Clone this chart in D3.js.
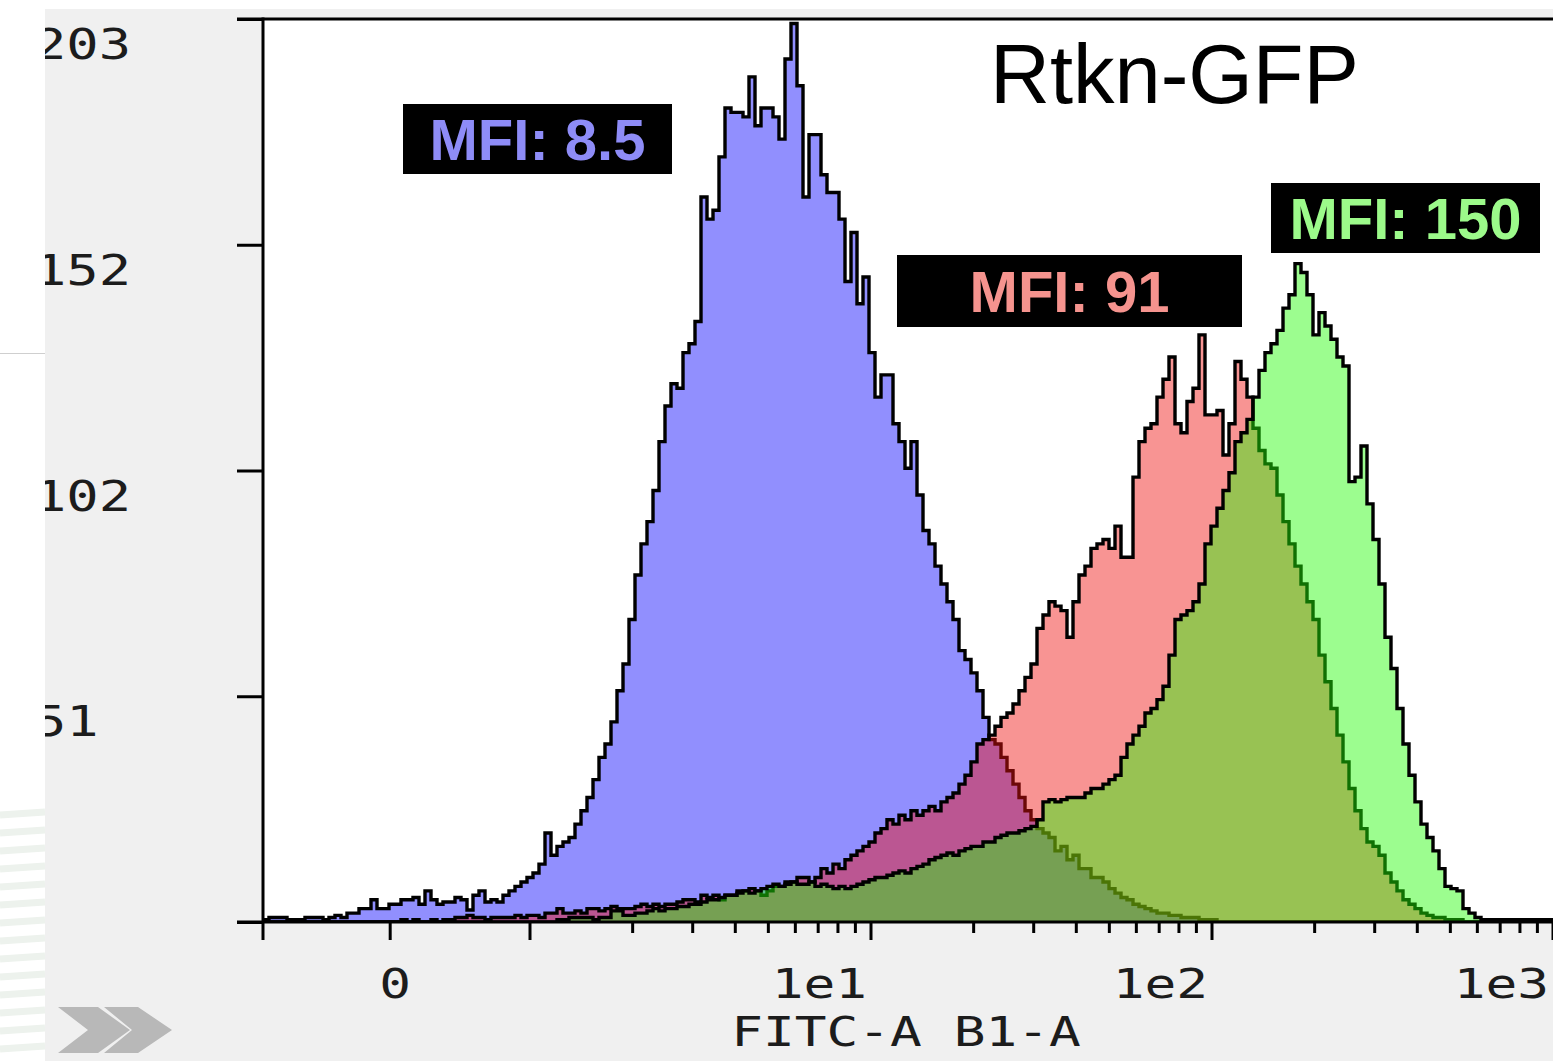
<!DOCTYPE html>
<html><head><meta charset="utf-8">
<script src="https://cdn.jsdelivr.net/npm/d3@7"></script>
<style>
html,body{margin:0;padding:0;background:#fff;}
svg{display:block;}
</style></head><body>
<svg id="c" width="1553" height="1061"></svg>
<script>
// ---------------- DATA ----------------
const chartTitle = "Rtkn-GFP";
const xAxisTitle = "FITC-A B1-A";
const yTickValues = [0, 50.75, 101.5, 152.25, 203];
const yTickLabels = ["", "51", "102", "152", "203"];
const xMajorTicks = [0, 1, 10, 100, 1000];
const xMajorLabels = ["0", "", "1e1", "1e2", "1e3"];
const xMinorTicks = [2,3,4,5,6,7,8,9,20,30,40,50,60,70,80,90,200,300,400,500,600,700,800,900];
const xDisplayDomain = [-0.783, 3.0];   // display decades (biexponential view)
const zeroDisplay = -0.41;              // display position of value 0
const mfiLabels = ["MFI: 8.5", "MFI: 91", "MFI: 150"];

// histogram counts per channel (evenly spaced channels over the display range)
const blueCounts = [
0.5,1,1,1,0.5,0.5,0.5,1,1,1,
0.5,1,1.5,1,2,2,3,3,5,3,
3,4,4,5,5,5.5,4,7,5,4,
4.5,4.5,5.5,5,2.7,6,7,4.5,5,4.5,
6,7,8,9,10,11,13,20,15,17,
18,19,22,25,28,32,37,40,45,52,
58,68,78,85,90,97,108,116,121,120,
128,130,135,163,158,160,172,183,182,182,
181,190,179,183,183,181,176,194,202,188,
163,177,177,168,164,164,158,144,155,139,
145,128,118,123,123,112,108,102,108,96,
88,85,80,76,72,68,61,59,56,52,
46,41,40,37,34,31,28,25,23,21,
20,19,16,17,14,15,12,12,10,10,
9,7.5,6.5,5.5,5,4,3.5,3,2.5,2,
2,1.5,1.5,1,1,1,0.5,0.5,0.5,0,
0,0,0,0,0,0,0,0,0,0,
0,0,0,0,0,0,0,0,0,0,
0,0,0,0,0,0,0,0,0,0,
0,0,0,0,0,0,0,0,0,0,
0,0,0,0,0,0,0,0,0,0,
0,0,0,0,0];

const redCounts = [
0,0,0,0,0,0,0,0,0,0,
0,0,0,0,0,0,0,0,0,0,
0,0,0,0.5,0,0.5,0,0,0.5,0,
0.5,0.5,1,1,1.5,1,1,0.5,1,1,
1,1,1.5,1,1.5,1.5,1,2,2,3,
2,2,2.5,2,3,3,2.5,3,3.5,3,
3,3,3.5,4,3.5,4,3.5,4,4,4.5,
5,5,4.5,6,5.5,6,5,6,6,7,
7,7.5,7,6,7,8,8,9,9,10,
10,9,10,12,11,13,12,14,15,16,
17,18,20,21,23,22,24,23,25,24,
25,26,25,27,28,29,31,33,36,40,
41,42,44,46,47,49,52,55,58,66,
69,72,71,70,64,72,78,80,84,85,
86,84,89,82,82,100,108,111,112,118,
122,127,112,110,117,120,132,114,114,115,
105,112,126,122,118,111,106,103,102,96,
90,85,80,76,72,68,60,54,48,42,
36,30,25,21,18,17,15,11,9,7,
5,4,3,2,1.5,1,1,0.5,0.5,0.5,
0,0,0,0,0,0,0,0,0,0,
0,0,0,0,0];

const greenCounts = [
0,0,0,0,0,0,0,0,0,0,
0,0,0,0,0,0,0,0,0,0,
0,0,0,0,0,0,0,0,0,0,
0,0,0,0,0,0,0,0,0,0,
0,0,0,0,0,0,0,0,0,0.5,
0.5,1,1,1,1,0.5,1,1,2.5,2.5,
1.5,1.5,2,2,2.5,3,2.5,3,3,3.5,
3.5,4,4,4.5,5,5,5.5,6,6,6.5,
7,6.5,7,7.5,8,8.5,8,8.5,9,8.5,
8.5,9,8,8.5,8,7.5,8,7.5,8,8.5,
9,9.5,10,10,10.5,11,11.5,11,12,12.5,
13,14,14.5,15,15.5,15,16,16.5,17,17,
18,18,19,19.5,20,20,20.5,21,21.5,23,
27,27.5,27,27.5,28,28,28,29,30,30,
31,32,33,37,40,42,44,47,48,50,
53,60,68,69,70,72,76,85,89,93,
97,101,108,110,113,118,124,128,130,133,
138,141,148,146,141,132,137,134,131,127,
125,99,100,107,94,86,76,64,57,48,
40,33,27,22,19,16,12,8,7.5,7,
3,2,1,0.5,0.5,0.5,0.5,0.5,0.5,0.5,
0.5,0.5,0.5,0.5,0.5];

// ---------------- LAYOUT ----------------
const W = 1553, H = 1061;
const plot = {left: 263, top: 19, right: 1553, bottom: 922};
const svg = d3.select("#c");
const monoFont = "'DejaVu Sans Mono', monospace";
const sansFont = "'Liberation Sans', Arial, Helvetica, sans-serif";

const x = d3.scaleLinear().domain(xDisplayDomain).range([plot.left, plot.right]);
const y = d3.scaleLinear().domain([0, 203]).range([plot.bottom, plot.top]);
const toDisplay = v => v > 0 ? Math.log10(v) : zeroDisplay;

// page background
svg.append("rect").attr("width", W).attr("height", H).attr("fill", "#fff");
// left decorative strip
const strip = svg.append("g");
strip.append("line").attr("x1", 0).attr("x2", 45).attr("y1", 353.5).attr("y2", 353.5)
  .attr("stroke", "#cfcfcf").attr("stroke-width", 1);
d3.range(14).forEach(k => {
  strip.append("line").attr("x1", 0).attr("x2", 45)
    .attr("y1", 815 + k * 18).attr("y2", 812 + k * 18)
    .attr("stroke", "#edf2ed").attr("stroke-width", 7);
});
// grey panel
svg.append("rect").attr("x", 45).attr("y", 9).attr("width", W - 45).attr("height", H - 9).attr("fill", "#f0f0f0");
// plot white area
svg.append("rect").attr("x", plot.left).attr("y", plot.top)
  .attr("width", plot.right - plot.left).attr("height", plot.bottom - plot.top).attr("fill", "#fff");

svg.append("defs").append("clipPath").attr("id", "pc").append("rect")
  .attr("x", plot.left).attr("y", plot.top).attr("width", plot.right - plot.left).attr("height", plot.bottom - plot.top);

// histograms
function binPoints(counts) {
  const n = counts.length;
  const bw = (xDisplayDomain[1] - xDisplayDomain[0]) / n;
  return d3.range(n + 1).map(i => ({u: xDisplayDomain[0] + i * bw, v: counts[Math.min(i, n - 1)]}));
}
const area = d3.area().curve(d3.curveStepAfter).x(d => x(d.u)).y0(y(0)).y1(d => y(d.v));
const line = d3.line().curve(d3.curveStepAfter).x(d => x(d.u)).y(d => y(d.v));

const hg = svg.append("g").attr("clip-path", "url(#pc)");
const series = [
  {counts: blueCounts, fill: "#918ffe", op: 1},
  {counts: redCounts, fill: "rgb(240,18,16)", op: 0.45},
  {counts: greenCounts, fill: "rgb(36,250,6)", op: 0.45}
];
series.forEach(s => {
  const pts = binPoints(s.counts);
  hg.append("path").attr("d", area(pts)).attr("fill", s.fill).attr("fill-opacity", s.op);
  hg.append("path").attr("d", line(pts)).attr("fill", "none").attr("stroke", "#000")
    .attr("stroke-width", 3.4).attr("stroke-linejoin", "miter");
});

// axes
const ax = svg.append("g").attr("stroke", "#000").attr("stroke-width", 3);
ax.append("line").attr("x1", 237).attr("x2", plot.right).attr("y1", plot.top).attr("y2", plot.top);
ax.append("line").attr("x1", 237).attr("x2", plot.right).attr("y1", plot.bottom).attr("y2", plot.bottom);
ax.append("line").attr("x1", plot.left).attr("x2", plot.left).attr("y1", plot.top - 1.5).attr("y2", 940);

const yAxis = d3.axisLeft(y).tickValues(yTickValues).tickSize(26).tickSizeOuter(0).tickFormat("");
const yg = svg.append("g").attr("transform", `translate(${plot.left},0)`).call(yAxis);
yg.select(".domain").remove();
yg.selectAll(".tick line").attr("stroke", "#000").attr("stroke-width", 3);

ax.selectAll(".xmaj").data(xMajorTicks).join("line").attr("class", "xmaj")
  .attr("x1", d => x(toDisplay(d))).attr("x2", d => x(toDisplay(d)))
  .attr("y1", plot.bottom).attr("y2", 940);
ax.selectAll(".xmin").data(xMinorTicks).join("line").attr("class", "xmin")
  .attr("x1", d => x(toDisplay(d))).attr("x2", d => x(toDisplay(d)))
  .attr("y1", plot.bottom).attr("y2", 933);

// y tick labels (clipped by the panel edge)
svg.select("defs").append("clipPath").attr("id", "lc").append("rect")
  .attr("x", 45).attr("y", 0).attr("width", 300).attr("height", H);
const yl = svg.append("g").attr("clip-path", "url(#lc)");
yl.selectAll("text").data(yTickValues.map((v, i) => ({v, t: yTickLabels[i]})).filter(d => d.t))
  .join("text")
  .attr("transform", d => `translate(34,${y(d.v) + 40}) scale(1.28,1)`)
  .attr("font-family", monoFont).attr("font-size", 42).attr("fill", "#1c1c1c")
  .text(d => d.t);

// x tick labels
svg.append("g").selectAll("text")
  .data(xMajorTicks.map((v, i) => ({v, t: xMajorLabels[i]})).filter(d => d.t))
  .join("text")
  .attr("transform", d => d.v === 0
      ? `translate(${x(toDisplay(d.v)) + 5},998) scale(1.32,1)`
      : `translate(${x(toDisplay(d.v)) - 4},998) scale(1.32,1)`)
  .attr("text-anchor", d => d.v === 0 ? "middle" : "end")
  .attr("font-family", monoFont).attr("font-size", 40).attr("fill", "#1c1c1c")
  .text(d => d.t);

// axis title
svg.append("text").attr("transform", "translate(906,1046) scale(1.32,1)")
  .attr("text-anchor", "middle").attr("font-family", monoFont).attr("font-size", 40)
  .attr("fill", "#1c1c1c").text(xAxisTitle);

// chevrons
const chev = svg.append("g").attr("fill", "#b8b8b8");
chev.append("polygon").attr("points", "58,1007 98,1007 130,1030 98,1053 58,1053 88,1030");
chev.append("polygon").attr("points", "104,1007 138,1007 172,1030 138,1053 104,1053 132,1030");

// chart title
svg.append("text").attr("x", 990).attr("y", 103).attr("font-family", sansFont)
  .attr("font-size", 83).attr("fill", "#000").text(chartTitle);

// MFI boxes
const boxes = [
  {x: 403, y: 104, w: 269, h: 70, color: "#8e8cf7"},
  {x: 897, y: 255, w: 345, h: 72, color: "#f5938e"},
  {x: 1271, y: 183, w: 269, h: 70, color: "#9cfa8a"}
];
boxes.forEach((b, i) => {
  svg.append("rect").attr("x", b.x).attr("y", b.y).attr("width", b.w).attr("height", b.h).attr("fill", "#000");
  svg.append("text").attr("x", b.x + b.w / 2).attr("y", b.y + b.h / 2 + 20.5)
    .attr("text-anchor", "middle").attr("font-family", sansFont).attr("font-weight", "bold")
    .attr("font-size", 58).attr("fill", b.color).text(mfiLabels[i]);
});
</script>
</body></html>
